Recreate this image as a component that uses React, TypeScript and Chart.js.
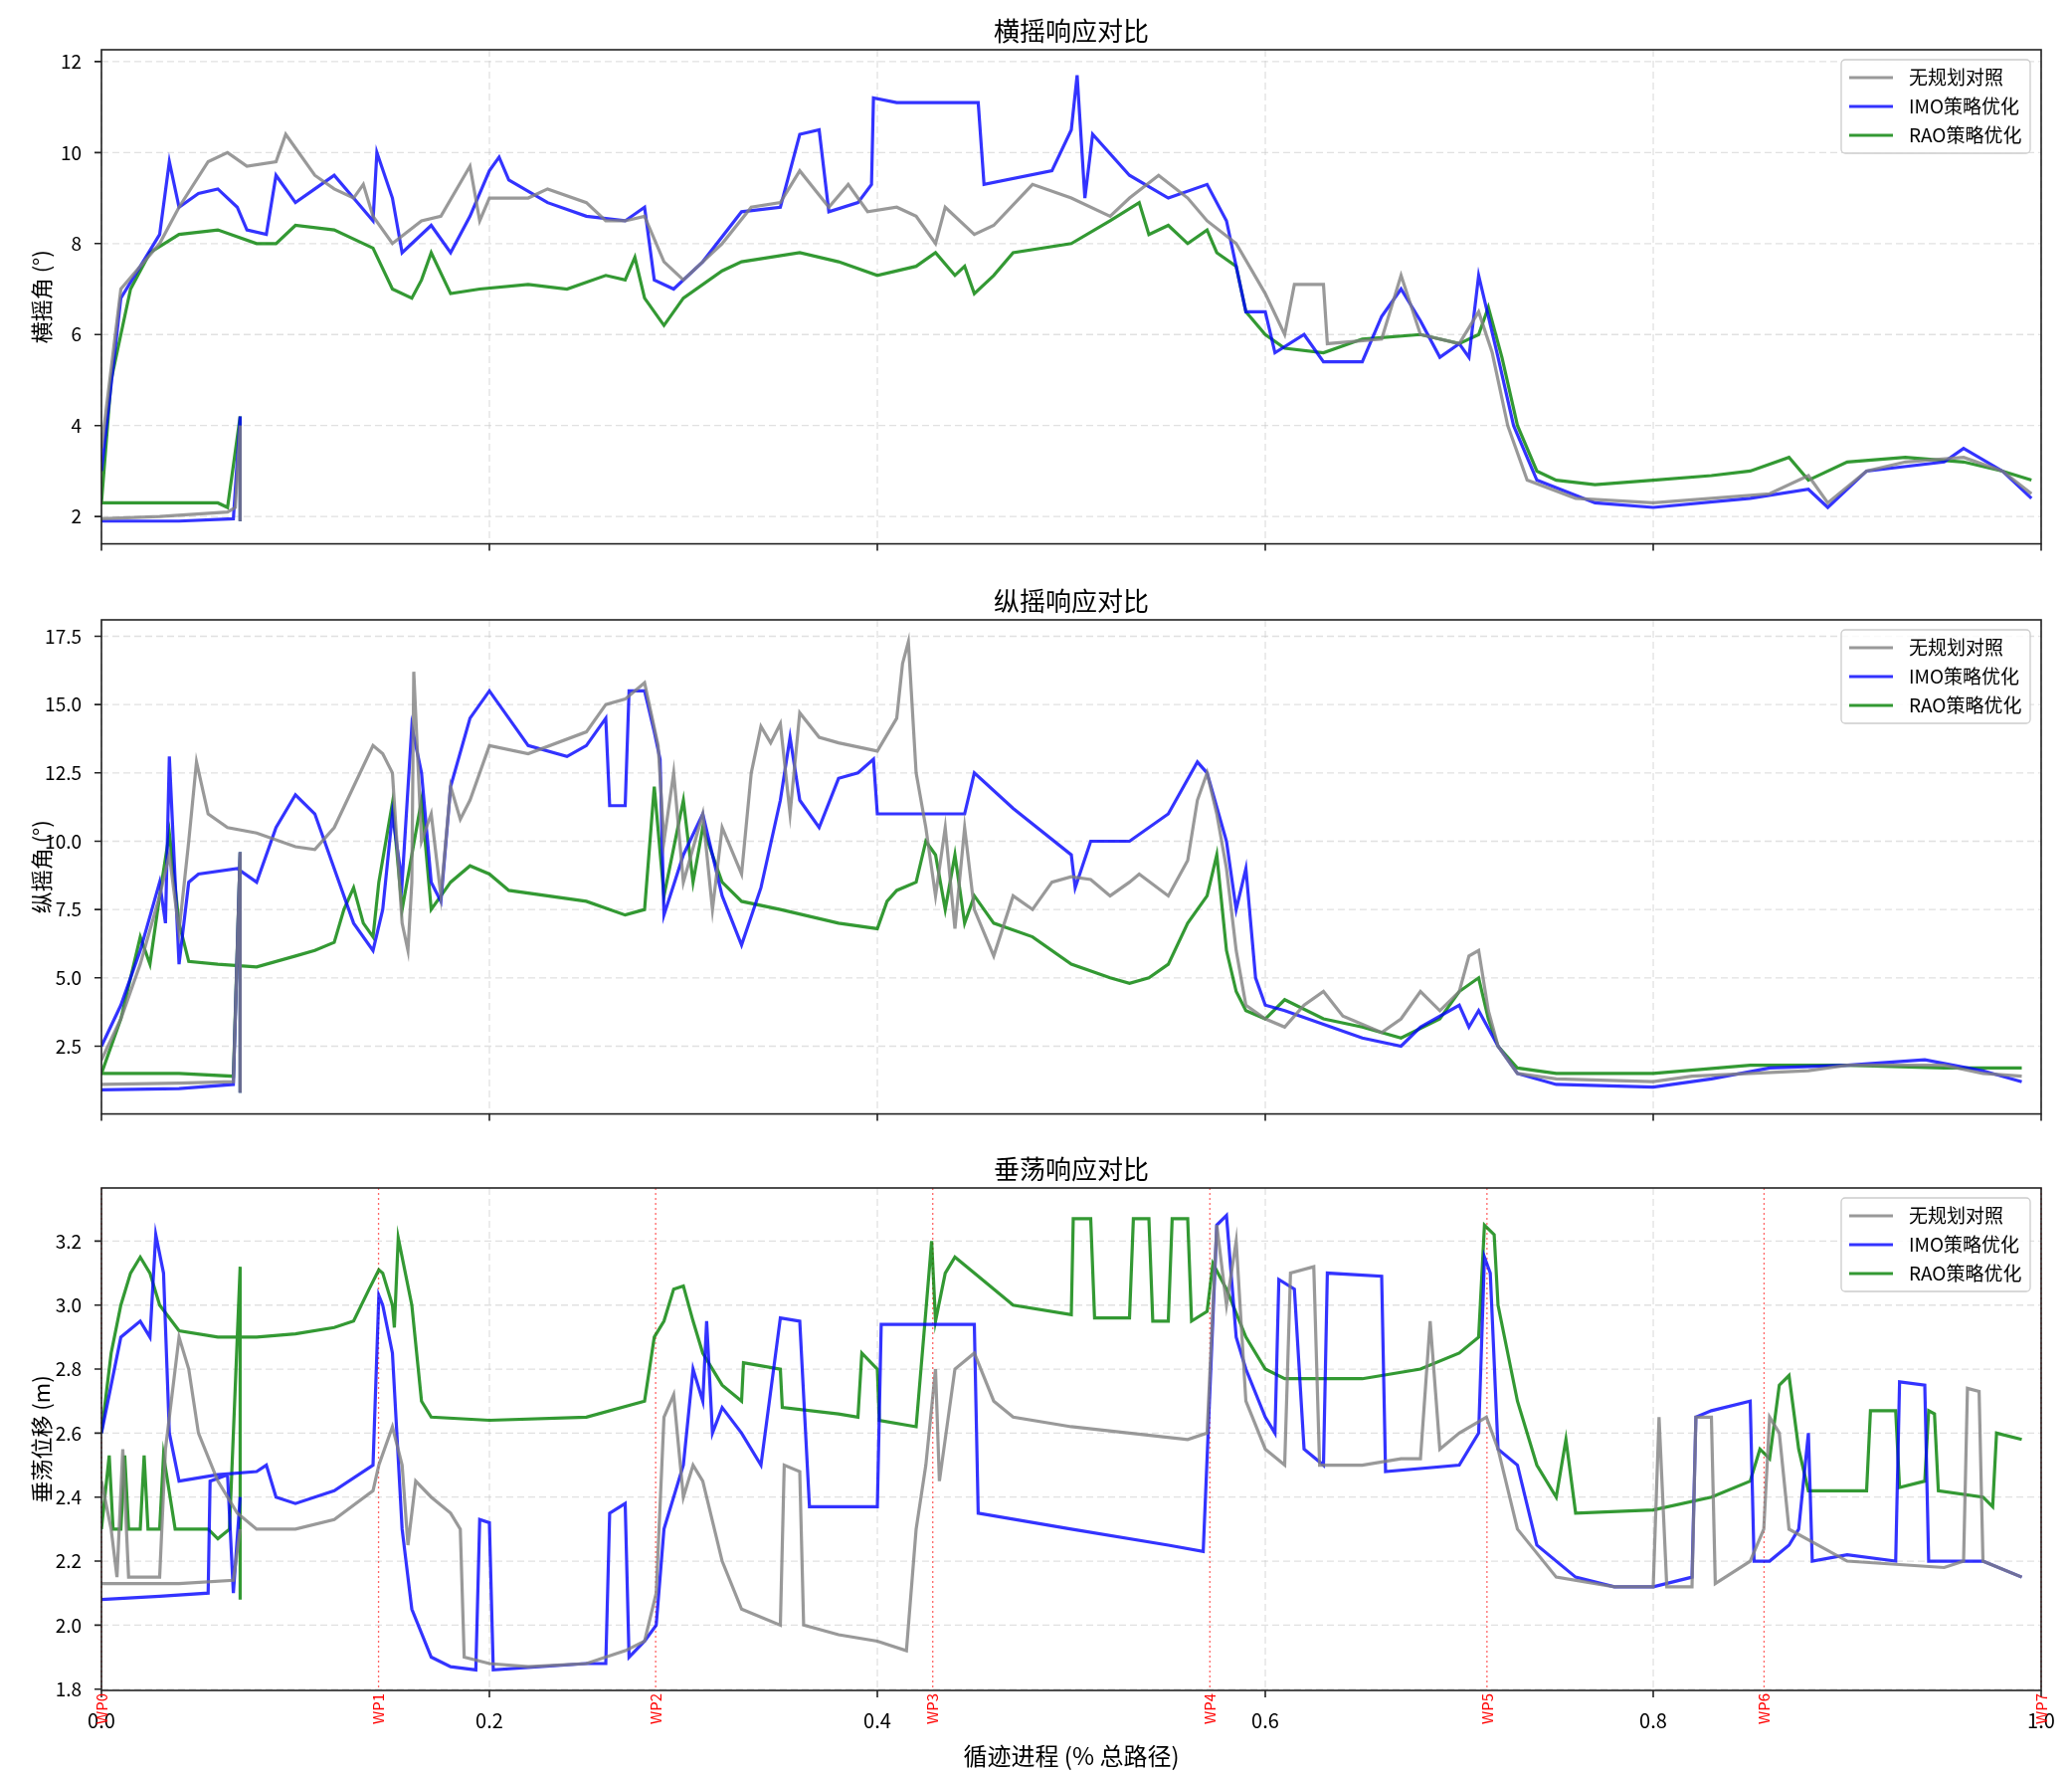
import React, { useEffect, useRef } from "react";
import { Chart, registerables } from "chart.js";
Chart.register(...registerables);

const FONT = "'Noto Sans CJK SC', 'DejaVu Sans', sans-serif";
const seriesNames = ["无规划对照", "IMO策略优化", "RAO策略优化"];
const seriesColors = ["rgba(128,128,128,0.8)", "rgba(0,0,255,0.8)", "rgba(0,128,0,0.8)"];
const panelTitles = ["横摇响应对比", "纵摇响应对比", "垂荡响应对比"];
const yTitles = ["横摇角 (°)", "纵摇角 (°)", "垂荡位移 (m)"];
const xTitle = "循迹进程 (% 总路径)";
const wpLabels = ["WP0", "WP1", "WP2", "WP3", "WP4", "WP5", "WP6", "WP7"];
const xTicks = [0, 0.2, 0.4, 0.6, 0.8, 1.0];

// Roll
const rollGrayLow = [[0,1.95],[0.03,2.0],[0.065,2.1],[0.069,2.2],[0.0715,4.0],[0.0715,1.9]];
const rollGray = [[0,3.5],[0.01,7],[0.03,8],[0.04,8.8],[0.055,9.8],[0.065,10],[0.075,9.7],[0.09,9.8],[0.095,10.4],[0.11,9.5],[0.12,9.2],[0.13,9.0],[0.135,9.3],[0.14,8.6],[0.15,8.0],[0.165,8.5],[0.175,8.6],[0.19,9.7],[0.195,8.5],[0.2,9.0],[0.22,9.0],[0.23,9.2],[0.25,8.9],[0.26,8.5],[0.27,8.5],[0.28,8.6],[0.29,7.6],[0.3,7.2],[0.32,8.0],[0.335,8.8],[0.35,8.9],[0.36,9.6],[0.375,8.8],[0.385,9.3],[0.395,8.7],[0.41,8.8],[0.42,8.6],[0.43,8.0],[0.435,8.8],[0.45,8.2],[0.46,8.4],[0.48,9.3],[0.5,9.0],[0.52,8.6],[0.53,9.0],[0.545,9.5],[0.56,9.0],[0.57,8.5],[0.585,8.0],[0.6,6.9],[0.61,6.0],[0.615,7.1],[0.63,7.1],[0.632,5.8],[0.66,5.9],[0.67,7.3],[0.68,6.0],[0.7,5.8],[0.71,6.5],[0.717,5.6],[0.725,4.0],[0.735,2.8],[0.76,2.4],[0.8,2.3],[0.83,2.4],[0.86,2.5],[0.88,2.9],[0.89,2.3],[0.91,3.0],[0.93,3.2],[0.96,3.3],[0.98,3.0],[0.995,2.5]];
const rollBlueLow = [[0,1.9],[0.04,1.9],[0.068,1.95],[0.0715,4.2],[0.0715,1.9]];
const rollBlue = [[0,3.0],[0.01,6.8],[0.03,8.2],[0.035,9.8],[0.04,8.8],[0.05,9.1],[0.06,9.2],[0.07,8.8],[0.075,8.3],[0.085,8.2],[0.09,9.5],[0.1,8.9],[0.11,9.2],[0.12,9.5],[0.14,8.5],[0.142,10.0],[0.15,9.0],[0.155,7.8],[0.17,8.4],[0.18,7.8],[0.19,8.6],[0.2,9.6],[0.205,9.9],[0.21,9.4],[0.23,8.9],[0.25,8.6],[0.27,8.5],[0.28,8.8],[0.285,7.2],[0.295,7.0],[0.31,7.6],[0.33,8.7],[0.35,8.8],[0.36,10.4],[0.37,10.5],[0.375,8.7],[0.39,8.9],[0.397,9.3],[0.398,11.2],[0.41,11.1],[0.452,11.1],[0.455,9.3],[0.49,9.6],[0.5,10.5],[0.503,11.7],[0.507,9.0],[0.511,10.4],[0.53,9.5],[0.55,9.0],[0.57,9.3],[0.58,8.5],[0.59,6.5],[0.6,6.5],[0.605,5.6],[0.62,6.0],[0.63,5.4],[0.65,5.4],[0.66,6.4],[0.67,7.0],[0.68,6.3],[0.69,5.5],[0.7,5.8],[0.705,5.5],[0.71,7.3],[0.72,5.5],[0.728,4.0],[0.74,2.8],[0.77,2.3],[0.8,2.2],[0.85,2.4],[0.88,2.6],[0.89,2.2],[0.91,3.0],[0.95,3.2],[0.96,3.5],[0.98,3.0],[0.995,2.4]];
const rollGreenLow = [[0,2.3],[0.03,2.3],[0.06,2.3],[0.065,2.2],[0.0715,4.2],[0.0715,1.9]];
const rollGreen = [[0,2.3],[0.005,5],[0.015,7],[0.025,7.8],[0.04,8.2],[0.06,8.3],[0.08,8.0],[0.09,8.0],[0.1,8.4],[0.12,8.3],[0.14,7.9],[0.15,7.0],[0.16,6.8],[0.165,7.2],[0.17,7.8],[0.18,6.9],[0.195,7.0],[0.22,7.1],[0.24,7.0],[0.26,7.3],[0.27,7.2],[0.275,7.7],[0.28,6.8],[0.29,6.2],[0.3,6.8],[0.32,7.4],[0.33,7.6],[0.36,7.8],[0.38,7.6],[0.4,7.3],[0.42,7.5],[0.43,7.8],[0.44,7.3],[0.445,7.5],[0.45,6.9],[0.46,7.3],[0.47,7.8],[0.5,8.0],[0.52,8.5],[0.535,8.9],[0.54,8.2],[0.55,8.4],[0.56,8.0],[0.57,8.3],[0.575,7.8],[0.585,7.5],[0.59,6.5],[0.6,6.0],[0.61,5.7],[0.63,5.6],[0.65,5.9],[0.68,6.0],[0.7,5.8],[0.71,6.0],[0.715,6.6],[0.722,5.5],[0.73,4],[0.74,3.0],[0.75,2.8],[0.77,2.7],[0.8,2.8],[0.83,2.9],[0.85,3.0],[0.87,3.3],[0.88,2.8],[0.9,3.2],[0.93,3.3],[0.96,3.2],[0.98,3.0],[0.995,2.8]];

// Pitch
const pitchGrayLow = [[0,1.1],[0.04,1.15],[0.068,1.2],[0.0715,9.6],[0.0715,0.8]];
const pitchGray = [[0,2.0],[0.01,3.5],[0.02,5.5],[0.03,8],[0.035,9.5],[0.04,6.7],[0.045,10],[0.049,12.9],[0.055,11],[0.065,10.5],[0.08,10.3],[0.1,9.8],[0.11,9.7],[0.12,10.5],[0.13,12],[0.14,13.5],[0.145,13.2],[0.15,12.5],[0.155,7],[0.158,6.0],[0.16,8.5],[0.161,16.2],[0.165,10],[0.17,11],[0.175,8.0],[0.18,12],[0.185,10.8],[0.19,11.5],[0.2,13.5],[0.22,13.2],[0.25,14.0],[0.26,15.0],[0.27,15.2],[0.28,15.8],[0.287,13.5],[0.29,10],[0.295,12.5],[0.3,8.5],[0.31,11],[0.315,7.5],[0.32,10.5],[0.33,8.8],[0.335,12.5],[0.34,14.2],[0.345,13.6],[0.35,14.3],[0.355,11],[0.36,14.7],[0.37,13.8],[0.38,13.6],[0.4,13.3],[0.41,14.5],[0.413,16.5],[0.416,17.3],[0.42,12.5],[0.425,10.5],[0.43,8],[0.435,10.5],[0.44,6.8],[0.445,10.5],[0.45,7.5],[0.46,5.8],[0.47,8],[0.48,7.5],[0.49,8.5],[0.5,8.7],[0.51,8.6],[0.52,8.0],[0.53,8.5],[0.535,8.8],[0.55,8],[0.56,9.3],[0.565,11.5],[0.57,12.5],[0.575,11],[0.58,9],[0.585,6],[0.59,4],[0.6,3.5],[0.61,3.2],[0.62,4.0],[0.63,4.5],[0.64,3.6],[0.66,3.0],[0.67,3.5],[0.68,4.5],[0.69,3.8],[0.7,4.5],[0.705,5.8],[0.71,6.0],[0.715,3.8],[0.72,2.5],[0.73,1.5],[0.75,1.3],[0.8,1.2],[0.82,1.4],[0.85,1.5],[0.88,1.6],[0.9,1.8],[0.95,1.8],[0.97,1.5],[0.99,1.4]];
const pitchBlueLow = [[0,0.9],[0.04,0.95],[0.068,1.1],[0.0715,9.6],[0.0715,0.8]];
const pitchBlue = [[0,2.5],[0.01,4],[0.02,6],[0.03,8.5],[0.033,7],[0.035,13.1],[0.04,5.5],[0.045,8.5],[0.05,8.8],[0.07,9.0],[0.08,8.5],[0.09,10.5],[0.1,11.7],[0.11,11.0],[0.12,9.0],[0.13,7],[0.14,6.0],[0.145,7.5],[0.15,11],[0.155,8.5],[0.16,14.2],[0.165,12.5],[0.17,8.5],[0.175,7.8],[0.18,12],[0.19,14.5],[0.2,15.5],[0.21,14.5],[0.22,13.5],[0.24,13.1],[0.25,13.5],[0.26,14.5],[0.262,11.3],[0.27,11.3],[0.272,15.5],[0.28,15.5],[0.285,14],[0.288,13],[0.29,7.3],[0.3,9.5],[0.31,11],[0.32,8.0],[0.33,6.2],[0.34,8.3],[0.35,11.5],[0.355,13.8],[0.36,11.5],[0.37,10.5],[0.38,12.3],[0.39,12.5],[0.398,13.0],[0.4,11.0],[0.43,11.0],[0.445,11.0],[0.45,12.5],[0.47,11.2],[0.5,9.5],[0.502,8.3],[0.51,10.0],[0.53,10.0],[0.55,11.0],[0.565,12.9],[0.57,12.5],[0.58,10],[0.585,7.5],[0.59,9],[0.595,5],[0.6,4.0],[0.61,3.8],[0.63,3.3],[0.65,2.8],[0.67,2.5],[0.68,3.2],[0.7,4.0],[0.705,3.2],[0.71,3.8],[0.72,2.5],[0.73,1.5],[0.75,1.1],[0.8,1.0],[0.83,1.3],[0.86,1.7],[0.9,1.8],[0.94,2.0],[0.97,1.6],[0.99,1.2]];
const pitchGreenLow = [[0,1.5],[0.04,1.5],[0.068,1.4],[0.0715,9.6],[0.0715,0.8]];
const pitchGreen = [[0,1.5],[0.01,3.5],[0.02,6.5],[0.025,5.5],[0.03,8],[0.035,10.3],[0.04,7],[0.045,5.6],[0.06,5.5],[0.08,5.4],[0.1,5.8],[0.11,6.0],[0.12,6.3],[0.125,7.5],[0.13,8.3],[0.135,7.0],[0.14,6.5],[0.143,8.5],[0.15,11.4],[0.155,7.5],[0.16,9.5],[0.165,11.5],[0.17,7.5],[0.18,8.5],[0.19,9.1],[0.2,8.8],[0.21,8.2],[0.25,7.8],[0.27,7.3],[0.28,7.5],[0.285,12],[0.29,8],[0.3,11.5],[0.305,8.5],[0.31,10.5],[0.32,8.5],[0.33,7.8],[0.35,7.5],[0.38,7.0],[0.4,6.8],[0.405,7.8],[0.41,8.2],[0.42,8.5],[0.425,10.0],[0.43,9.5],[0.435,7.5],[0.44,9.5],[0.445,7.0],[0.45,8.0],[0.46,7.0],[0.48,6.5],[0.5,5.5],[0.52,5.0],[0.53,4.8],[0.54,5.0],[0.55,5.5],[0.56,7.0],[0.57,8.0],[0.575,9.5],[0.58,6],[0.585,4.5],[0.59,3.8],[0.6,3.5],[0.61,4.2],[0.63,3.5],[0.65,3.2],[0.67,2.8],[0.69,3.5],[0.7,4.5],[0.71,5.0],[0.715,3.5],[0.72,2.5],[0.73,1.7],[0.75,1.5],[0.8,1.5],[0.85,1.8],[0.9,1.8],[0.95,1.7],[0.99,1.7]];

// Heave
const heaveGrayLow = [[0,2.13],[0.04,2.13],[0.068,2.14],[0.0715,2.3]];
const heaveGray = [[0,2.45],[0.005,2.3],[0.008,2.15],[0.011,2.55],[0.014,2.15],[0.03,2.15],[0.033,2.55],[0.04,2.9],[0.045,2.8],[0.05,2.6],[0.06,2.45],[0.07,2.35],[0.08,2.3],[0.1,2.3],[0.12,2.33],[0.14,2.42],[0.143,2.5],[0.15,2.62],[0.155,2.5],[0.158,2.25],[0.162,2.45],[0.17,2.4],[0.18,2.35],[0.185,2.3],[0.187,1.9],[0.2,1.88],[0.22,1.87],[0.25,1.88],[0.27,1.92],[0.28,1.95],[0.286,2.1],[0.29,2.65],[0.295,2.72],[0.3,2.4],[0.305,2.5],[0.31,2.45],[0.32,2.2],[0.33,2.05],[0.35,2.0],[0.352,2.5],[0.36,2.48],[0.362,2.0],[0.38,1.97],[0.4,1.95],[0.415,1.92],[0.42,2.3],[0.425,2.5],[0.43,2.8],[0.432,2.45],[0.44,2.8],[0.45,2.85],[0.46,2.7],[0.47,2.65],[0.5,2.62],[0.53,2.6],[0.56,2.58],[0.57,2.6],[0.575,3.25],[0.58,3.0],[0.585,3.2],[0.59,2.7],[0.6,2.55],[0.61,2.5],[0.613,3.1],[0.625,3.12],[0.628,2.5],[0.65,2.5],[0.67,2.52],[0.68,2.52],[0.685,2.95],[0.69,2.55],[0.7,2.6],[0.714,2.65],[0.72,2.55],[0.73,2.3],[0.75,2.15],[0.78,2.12],[0.8,2.12],[0.803,2.65],[0.807,2.12],[0.82,2.12],[0.822,2.65],[0.83,2.65],[0.832,2.13],[0.85,2.2],[0.857,2.3],[0.86,2.65],[0.865,2.6],[0.87,2.3],[0.9,2.2],[0.95,2.18],[0.96,2.2],[0.962,2.74],[0.968,2.73],[0.97,2.2],[0.99,2.15]];
const heaveBlueLow = [[0,2.08],[0.03,2.09],[0.055,2.1],[0.056,2.45],[0.065,2.47],[0.068,2.1],[0.0715,2.4]];
const heaveBlue = [[0,2.6],[0.01,2.9],[0.02,2.95],[0.025,2.9],[0.028,3.22],[0.032,3.1],[0.035,2.6],[0.04,2.45],[0.06,2.47],[0.08,2.48],[0.085,2.5],[0.09,2.4],[0.1,2.38],[0.12,2.42],[0.14,2.5],[0.143,3.03],[0.145,3.0],[0.15,2.85],[0.155,2.3],[0.16,2.05],[0.17,1.9],[0.18,1.87],[0.193,1.86],[0.195,2.33],[0.2,2.32],[0.202,1.86],[0.25,1.88],[0.26,1.88],[0.262,2.35],[0.27,2.38],[0.272,1.9],[0.28,1.95],[0.286,2.0],[0.29,2.3],[0.3,2.5],[0.305,2.8],[0.31,2.7],[0.312,2.95],[0.315,2.6],[0.32,2.68],[0.33,2.6],[0.34,2.5],[0.35,2.96],[0.36,2.95],[0.365,2.37],[0.4,2.37],[0.402,2.94],[0.43,2.94],[0.45,2.94],[0.452,2.35],[0.5,2.3],[0.55,2.25],[0.568,2.23],[0.575,3.25],[0.58,3.28],[0.585,2.9],[0.59,2.8],[0.6,2.65],[0.605,2.6],[0.607,3.08],[0.615,3.05],[0.62,2.55],[0.63,2.5],[0.632,3.1],[0.66,3.09],[0.662,2.48],[0.7,2.5],[0.71,2.6],[0.713,3.15],[0.716,3.1],[0.72,2.55],[0.73,2.5],[0.74,2.25],[0.76,2.15],[0.78,2.12],[0.8,2.12],[0.82,2.15],[0.822,2.65],[0.83,2.67],[0.85,2.7],[0.852,2.2],[0.86,2.2],[0.87,2.25],[0.875,2.3],[0.88,2.6],[0.882,2.2],[0.9,2.22],[0.925,2.2],[0.927,2.76],[0.94,2.75],[0.942,2.2],[0.97,2.2],[0.99,2.15]];
const heaveGreenLow = [[0,2.3],[0.004,2.53],[0.006,2.3],[0.01,2.3],[0.012,2.53],[0.014,2.3],[0.02,2.3],[0.022,2.53],[0.024,2.3],[0.03,2.3],[0.032,2.53],[0.038,2.3],[0.055,2.3],[0.06,2.27],[0.066,2.3],[0.0715,3.12],[0.0715,2.08]];
const heaveGreen = [[0,2.6],[0.005,2.85],[0.01,3.0],[0.015,3.1],[0.02,3.15],[0.025,3.1],[0.03,3.0],[0.04,2.92],[0.06,2.9],[0.08,2.9],[0.1,2.91],[0.12,2.93],[0.13,2.95],[0.138,3.05],[0.143,3.11],[0.145,3.1],[0.15,3.0],[0.151,2.93],[0.153,3.21],[0.16,3.0],[0.165,2.7],[0.17,2.65],[0.2,2.64],[0.25,2.65],[0.28,2.7],[0.285,2.9],[0.29,2.95],[0.295,3.05],[0.3,3.06],[0.305,2.95],[0.31,2.85],[0.32,2.75],[0.33,2.7],[0.331,2.82],[0.35,2.8],[0.351,2.68],[0.38,2.66],[0.39,2.65],[0.392,2.85],[0.4,2.8],[0.401,2.64],[0.42,2.62],[0.425,2.98],[0.428,3.2],[0.43,2.95],[0.435,3.1],[0.44,3.15],[0.45,3.1],[0.47,3.0],[0.5,2.97],[0.501,3.27],[0.51,3.27],[0.512,2.96],[0.53,2.96],[0.532,3.27],[0.54,3.27],[0.542,2.95],[0.55,2.95],[0.552,3.27],[0.56,3.27],[0.562,2.95],[0.57,2.98],[0.573,3.13],[0.58,3.05],[0.59,2.9],[0.6,2.8],[0.61,2.77],[0.65,2.77],[0.68,2.8],[0.7,2.85],[0.71,2.9],[0.713,3.25],[0.718,3.22],[0.72,3.0],[0.73,2.7],[0.74,2.5],[0.75,2.4],[0.755,2.58],[0.76,2.35],[0.8,2.36],[0.83,2.4],[0.85,2.45],[0.855,2.55],[0.86,2.52],[0.865,2.75],[0.87,2.78],[0.875,2.55],[0.88,2.42],[0.91,2.42],[0.912,2.67],[0.925,2.67],[0.927,2.43],[0.94,2.45],[0.942,2.67],[0.945,2.66],[0.947,2.42],[0.97,2.4],[0.975,2.37],[0.977,2.6],[0.99,2.58]];

const panels = [
  { series: [[rollGrayLow, rollGray], [rollBlueLow, rollBlue], [rollGreenLow, rollGreen]], min: 1.4, max: 12.26, step: 2, dec: 0 },
  { series: [[pitchGrayLow, pitchGray], [pitchBlueLow, pitchBlue], [pitchGreenLow, pitchGreen]], min: 0.02, max: 18.1, step: 2.5, dec: 1 },
  { series: [[heaveGrayLow, heaveGray], [heaveBlueLow, heaveBlue], [heaveGreenLow, heaveGreen]], min: 1.796, max: 3.366, step: 0.2, dec: 1 },
];

function makeChart(canvas: HTMLCanvasElement, idx: number) {
  const p = panels[idx];
  const bottom = idx === 2;
  const datasets = p.series.map((pair, si) => ({
    label: seriesNames[si],
    data: [...pair[0].map(([x, y]) => ({ x, y })), { x: 0.0716, y: null }, ...pair[1].map(([x, y]) => ({ x, y }))],
    borderColor: seriesColors[si],
    borderWidth: 3.2,
    pointRadius: 0,
    tension: 0,
    spanGaps: false,
  }));
  const decor = {
    id: "decor",
    beforeDatasetsDraw(c: any) {
      const ctx = c.ctx, a = c.chartArea, xs = c.scales.x, ys = c.scales.y;
      ctx.save();
      ctx.strokeStyle = "rgba(200,200,200,0.55)";
      ctx.lineWidth = 1.3;
      ctx.setLineDash([7, 4]);
      ys.ticks.forEach((t: any) => { const y = ys.getPixelForValue(t.value); ctx.beginPath(); ctx.moveTo(a.left, y); ctx.lineTo(a.right, y); ctx.stroke(); });
      xTicks.forEach((v) => { const x = xs.getPixelForValue(v); ctx.beginPath(); ctx.moveTo(x, a.top); ctx.lineTo(x, a.bottom); ctx.stroke(); });
      if (bottom) {
        ctx.strokeStyle = "rgba(255,0,0,0.6)";
        ctx.setLineDash([2, 3]);
        ctx.lineWidth = 1.3;
        wpLabels.forEach((_, k) => { const x = xs.getPixelForValue(k / 7); ctx.beginPath(); ctx.moveTo(x, a.top); ctx.lineTo(x, a.bottom); ctx.stroke(); });
      }
      ctx.restore();
    },
    afterDraw(c: any) {
      const ctx = c.ctx, a = c.chartArea, xs = c.scales.x, ys = c.scales.y;
      ctx.save();
      ctx.strokeStyle = "#222";
      ctx.lineWidth = 1.6;
      ctx.strokeRect(a.left, a.top, a.right - a.left, a.bottom - a.top);
      ctx.beginPath();
      ys.ticks.forEach((t: any) => { const y = ys.getPixelForValue(t.value); ctx.moveTo(a.left - 7, y); ctx.lineTo(a.left, y); });
      xTicks.forEach((v) => { const x = xs.getPixelForValue(v); ctx.moveTo(x, a.bottom); ctx.lineTo(x, a.bottom + 7); });
      ctx.stroke();
      ctx.fillStyle = "#000";
      ctx.font = `26px ${FONT}`;
      ctx.textAlign = "center";
      ctx.textBaseline = "bottom";
      ctx.fillText(panelTitles[idx], (a.left + a.right) / 2, a.top - 6);
      ctx.save();
      ctx.translate(a.left - 60, (a.top + a.bottom) / 2);
      ctx.rotate(-Math.PI / 2);
      ctx.font = `22px ${FONT}`;
      ctx.textBaseline = "middle";
      ctx.fillText(yTitles[idx], 0, 0);
      ctx.restore();
      if (bottom) {
        ctx.font = `24px ${FONT}`;
        ctx.textBaseline = "bottom";
        ctx.fillText(xTitle, (a.left + a.right) / 2, c.height - 6);
        ctx.fillStyle = "red";
        ctx.font = `15px ${FONT}`;
        wpLabels.forEach((w, k) => {
          const x = xs.getPixelForValue(k / 7);
          ctx.save();
          ctx.translate(x, a.bottom + 3);
          ctx.rotate(-Math.PI / 2);
          ctx.textAlign = "right";
          ctx.textBaseline = "middle";
          ctx.fillText(w, 0, 0);
          ctx.restore();
        });
      }
      const lx = a.right - 201, ly = a.top + 10, lw = 190, lh = 94;
      ctx.fillStyle = "rgba(255,255,255,0.85)";
      ctx.strokeStyle = "#ccc";
      ctx.lineWidth = 1.3;
      ctx.beginPath();
      (ctx as any).roundRect(lx, ly, lw, lh, 4);
      ctx.fill();
      ctx.stroke();
      ctx.font = `19px ${FONT}`;
      ctx.textAlign = "left";
      ctx.textBaseline = "middle";
      seriesNames.forEach((n, i) => {
        const yy = ly + 18 + i * 29;
        ctx.strokeStyle = seriesColors[i];
        ctx.lineWidth = 3.2;
        ctx.beginPath();
        ctx.moveTo(lx + 8, yy);
        ctx.lineTo(lx + 52, yy);
        ctx.stroke();
        ctx.fillStyle = "#000";
        ctx.fillText(n, lx + 68, yy);
      });
      ctx.restore();
    },
  };
  return new Chart(canvas, {
    type: "line",
    data: { datasets: datasets as any },
    options: {
      animation: false,
      responsive: false,
      maintainAspectRatio: false,
      layout: { padding: { left: 0, right: 31, top: bottom ? 54 : 50, bottom: 0 } },
      plugins: { legend: { display: false }, tooltip: { enabled: false } },
      scales: {
        x: {
          type: "linear", min: 0, max: 1,
          grid: { display: false }, border: { display: false },
          afterBuildTicks: (s: any) => { s.ticks = xTicks.map((v) => ({ value: v })); },
          ticks: { display: bottom, padding: 10, color: "#000", font: { family: FONT, size: 20 }, maxRotation: 0, callback: (v: any) => Number(v).toFixed(1) },
          afterFit: (s: any) => { s.height = bottom ? 84 : 15; },
        },
        y: {
          min: p.min, max: p.max,
          grid: { display: false }, border: { display: false },
          afterBuildTicks: (s: any) => {
            const t = [];
            const start = Math.ceil(p.min / p.step - 1e-9) * p.step;
            for (let v = start; v <= p.max + 1e-9; v += p.step) t.push({ value: Math.round(v * 1000) / 1000 });
            s.ticks = t;
          },
          ticks: { padding: 12, color: "#000", font: { family: FONT, size: 19 }, callback: (v: any) => Number(v).toFixed(p.dec) },
          afterFit: (s: any) => { s.width = 102; },
        },
      },
    },
    plugins: [decor],
  } as any);
}

export default function App() {
  const r0 = useRef<HTMLCanvasElement>(null);
  const r1 = useRef<HTMLCanvasElement>(null);
  const r2 = useRef<HTMLCanvasElement>(null);
  useEffect(() => {
    const charts = [r0, r1, r2].map((r, i) => makeChart(r.current!, i));
    return () => charts.forEach((c) => c.destroy());
  }, []);
  const st = (top: number, h: number): React.CSSProperties => ({ position: "absolute", left: 0, top, width: 2083, height: h });
  return (
    <div style={{ position: "absolute", left: 0, top: 0, width: 2083, height: 1783, background: "#fff" }}>
      <canvas ref={r0} width={2083} height={570} style={st(0, 570)} />
      <canvas ref={r1} width={2083} height={570} style={st(573, 570)} />
      <canvas ref={r2} width={2083} height={643} style={st(1140, 643)} />
    </div>
  );
}
